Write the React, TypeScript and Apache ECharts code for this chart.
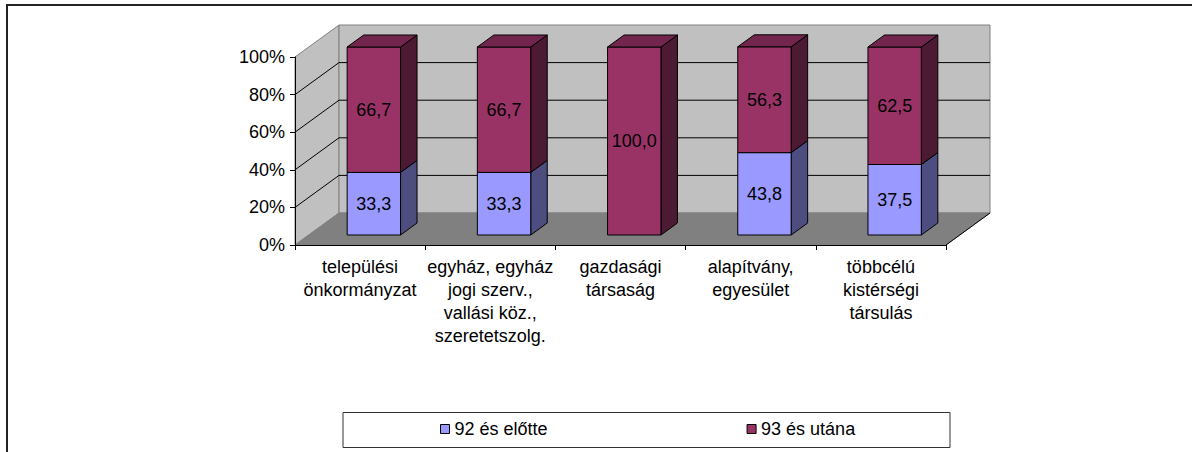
import React, { useEffect, useRef } from "react";
import * as echarts from "echarts";

const categories = [
  "települési\nönkormányzat",
  "egyház, egyház\njogi szerv.,\nvallási köz.,\nszeretetszolg.",
  "gazdasági\ntársaság",
  "alapítvány,\negyesület",
  "többcélú\nkistérségi\ntársulás",
];
const before92 = [33.3, 33.3, 0, 43.8, 37.5];
const after93 = [66.7, 66.7, 100.0, 56.3, 62.5];
const seriesNames = ["92 és előtte", "93 és utána"];
const yTicks = [0, 20, 40, 60, 80, 100];

const FONT = "'Liberation Sans', Arial, Helvetica, sans-serif";
const DX = 44;
const DY = -32;
const FRONT = 0.3125;
const DEPTH = 0.375;
const BAR_W = 0.41;

const colors = [
  { front: "#9999FF", side: "#4D4D80", top: "#7373BF" },
  { front: "#993366", side: "#4D1A33", top: "#73264D" },
];

const fmt = (v: number) => v.toFixed(1).replace(".", ",");

const makeBarRender = (si: number) => (params: any, api: any) => {
  const idx = api.value(0);
  const start = api.value(1);
  const end = api.value(2);
  const val = api.value(3);
  if (!(val > 0)) return { type: "group", children: [] };
  const pb = api.coord([idx, start]);
  const pt = api.coord([idx, end]);
  const band = api.size([1, 0])[0];
  const w = band * BAR_W;
  const fx = DX * FRONT;
  const fy = DY * FRONT;
  const dx = DX * DEPTH;
  const dy = DY * DEPTH;
  const xl = pb[0] - w / 2 + fx;
  const xr = pb[0] + w / 2 + fx;
  const yb = pb[1] + fy;
  const yt = pt[1] + fy;
  const c = colors[si];
  const children: any[] = [
    {
      type: "polygon",
      shape: { points: [[xr, yt], [xr + dx, yt + dy], [xr + dx, yb + dy], [xr, yb]] },
      style: { fill: c.side, stroke: "#000", lineWidth: 1 },
    },
    {
      type: "rect",
      shape: { x: xl, y: yt, width: xr - xl, height: yb - yt },
      style: { fill: c.front, stroke: "#000", lineWidth: 1 },
    },
  ];
  if (si === 1) {
    children.push({
      type: "polygon",
      shape: { points: [[xl, yt], [xr, yt], [xr + dx, yt + dy], [xl + dx, yt + dy]] },
      style: { fill: c.top, stroke: "#000", lineWidth: 1 },
    });
  }
  children.push({
    type: "text",
    style: {
      text: fmt(val),
      x: (xl + xr) / 2,
      y: (yt + yb) / 2,
      align: "center",
      verticalAlign: "middle",
      fontSize: 18,
      fontFamily: FONT,
      fill: "#000",
    },
  });
  return { type: "group", children };
};

const renderWalls = (params: any, api: any) => {
  const cs = params.coordSys;
  const x0 = cs.x;
  const x1 = cs.x + cs.width;
  const y = (v: number) => api.coord([0, v])[1];
  const y0 = y(yTicks[0]);
  const yTop = y(yTicks[yTicks.length - 1]);
  const children: any[] = [
    {
      type: "polygon",
      shape: { points: [[x0, y0], [x0 + DX, y0 + DY], [x0 + DX, yTop + DY], [x0, yTop]] },
      style: { fill: "#C0C0C0", stroke: "#808080", lineWidth: 1 },
    },
    {
      type: "rect",
      shape: { x: x0 + DX, y: yTop + DY, width: x1 - x0, height: y0 - yTop },
      style: { fill: "#C0C0C0", stroke: "#808080", lineWidth: 1 },
    },
    {
      type: "polygon",
      shape: { points: [[x0, y0], [x1, y0], [x1 + DX, y0 + DY], [x0 + DX, y0 + DY]] },
      style: { fill: "#808080", stroke: "#808080", lineWidth: 1 },
    },
    {
      type: "line",
      shape: { x1: x1, y1: y0, x2: x1 + DX, y2: y0 + DY },
      style: { stroke: "#000", lineWidth: 1 },
    },
  ];
  yTicks.slice(1, -1).forEach((v) => {
    const yv = y(v);
    children.push({
      type: "polyline",
      shape: { points: [[x0, yv], [x0 + DX, yv + DY], [x1 + DX, yv + DY]] },
      style: { stroke: "#000", lineWidth: 1, fill: "none" },
    });
  });
  return { type: "group", children };
};

export default function App() {
  const ref = useRef<HTMLDivElement>(null);
  useEffect(() => {
    if (!ref.current) return;
    const chart = echarts.init(ref.current, undefined, { renderer: "svg" });
    const blueData = categories.map((_, i) => [i, 0, before92[i], before92[i]]);
    const redData = categories.map((_, i) => [i, before92[i], before92[i] + after93[i], after93[i]]);
    chart.setOption({
      animation: false,
      backgroundColor: "#fff",
      textStyle: { fontFamily: FONT },
      grid: { left: 295, right: 246, top: 57, bottom: 207, outerBoundsMode: "none", containLabel: false },
      xAxis: {
        type: "category",
        data: categories,
        z: 10,
        axisLine: { show: true, lineStyle: { color: "#000", width: 1 } },
        axisTick: { show: true, length: 5, alignWithLabel: false, lineStyle: { color: "#000" } },
        axisLabel: { interval: 0, fontSize: 18, lineHeight: 23, margin: 10, color: "#000", fontFamily: FONT },
        splitLine: { show: false },
      },
      yAxis: {
        type: "value",
        min: 0,
        max: 100,
        interval: 20,
        z: 10,
        axisLine: { show: true, lineStyle: { color: "#000", width: 1 } },
        axisTick: { show: true, length: 5, lineStyle: { color: "#000" } },
        axisLabel: { formatter: "{value}%", fontSize: 18, margin: 10, color: "#000", fontFamily: FONT },
        splitLine: { show: false },
      },
      legend: {
        data: seriesNames,
        left: 440,
        top: 420,
        padding: 0,
        icon: "rect",
        itemWidth: 9,
        itemHeight: 9,
        itemGap: 199,
        itemStyle: { borderColor: "#000", borderWidth: 1 },
        textStyle: { fontSize: 18, color: "#000", fontFamily: FONT },
      },
      graphic: [
        {
          type: "rect",
          z: -1,
          shape: { x: 343, y: 412.5, width: 607, height: 35 },
          style: { fill: "none", stroke: "#333", lineWidth: 1 },
        },
        {
          type: "rect",
          z: -1,
          shape: { x: 7, y: 5, width: 1300, height: 600 },
          style: { fill: "none", stroke: "#222", lineWidth: 2 },
        },
      ],
      series: [
        {
          type: "custom",
          name: "walls",
          renderItem: renderWalls,
          data: [[0, 0]],
          encode: { x: 0, y: 1 },
          z: 1,
          silent: true,
        },
        {
          type: "custom",
          name: seriesNames[0],
          renderItem: makeBarRender(0),
          data: blueData,
          encode: { x: 0, y: [1, 2] },
          itemStyle: { color: colors[0].front, borderColor: "#000", borderWidth: 1 },
          z: 3,
        },
        {
          type: "custom",
          name: seriesNames[1],
          renderItem: makeBarRender(1),
          data: redData,
          encode: { x: 0, y: [1, 2] },
          itemStyle: { color: colors[1].front, borderColor: "#000", borderWidth: 1 },
          z: 4,
        },
      ],
    });
    return () => chart.dispose();
  }, []);
  return (
    <div
      ref={ref}
      style={{ position: "fixed", left: 0, top: 0, width: 1192, height: 452, background: "#fff" }}
    />
  );
}
